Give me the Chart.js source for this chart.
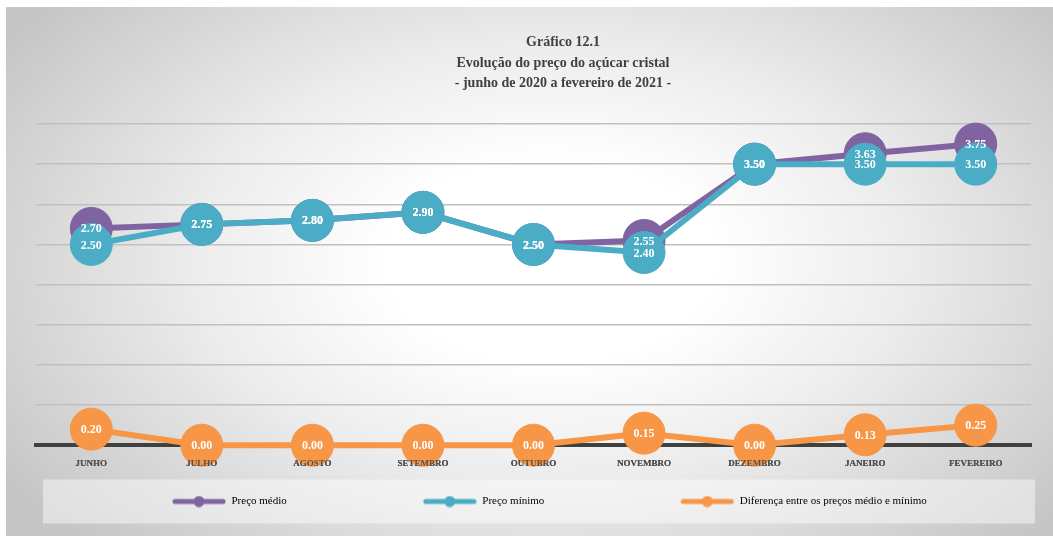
<!DOCTYPE html>
<html>
<head>
<meta charset="utf-8">
<script src="https://cdn.jsdelivr.net/npm/chart.js@4.4.1/dist/chart.umd.min.js"></script>
<style>
html,body{margin:0;padding:0;background:#fff;overflow:hidden;}
#wrap{position:absolute;left:6px;top:7px;width:1047px;height:529px;
  background:radial-gradient(ellipse 62% 75% at 52% 48%, #ffffff 25%, #ececec 55%, #c6c6c6 100%);}
#title{position:absolute;left:363px;top:32px;width:400px;text-align:center;
  font:bold 14px/20.5px 'Liberation Serif','DejaVu Serif',serif;color:#404040;}
</style>
</head>
<body>
<div id="wrap"><canvas id="chart" width="1047" height="529"></canvas></div>
<div id="title"></div>
<script>
// --- data ---
const months = ['JUNHO','JULHO','AGOSTO','SETEMBRO','OUTUBRO','NOVEMBRO','DEZEMBRO','JANEIRO','FEVEREIRO'];
const precoMedio = [2.70, 2.75, 2.80, 2.90, 2.50, 2.55, 3.50, 3.63, 3.75];
const precoMinimo = [2.50, 2.75, 2.80, 2.90, 2.50, 2.40, 3.50, 3.50, 3.50];
const diferenca = [0.20, 0.00, 0.00, 0.00, 0.00, 0.15, 0.00, 0.13, 0.25];
const titleLines = ['Gráfico 12.1', 'Evolução do preço do açúcar cristal', '- junho de 2020 a fevereiro de 2021 -'];

const PURPLE = '#8064A2', TEAL = '#4BACC6', ORANGE = '#F79646';
const SERIF = "'Liberation Serif', 'DejaVu Serif', serif";
const GAP = 122; // blank room left of each legend marker, spreads items like the original

document.getElementById('title').innerHTML = titleLines.join('<br>');

// legend marker: thick line with a dot
function marker(color){
  const c = document.createElement('canvas');
  c.width = 54 + GAP; c.height = 12;
  const g = c.getContext('2d');
  g.strokeStyle = color; g.lineWidth = 5; g.lineCap = 'round';
  g.beginPath(); g.moveTo(GAP+3,6); g.lineTo(GAP+51,6); g.stroke();
  g.fillStyle = color;
  g.beginPath(); g.arc(GAP+27,6,5.5,0,Math.PI*2); g.fill();
  return c;
}

function ds(label, data, color, order){
  return {
    label, data, order,
    borderColor: color, backgroundColor: color,
    borderWidth: 6,
    pointRadius: 21, pointHoverRadius: 21,
    pointBorderWidth: 1, pointBorderColor: color,
    pointBackgroundColor: color,
    clip: false,
    marker: marker(color)
  };
}

// white value labels on the points, then x labels again on top
const valueLabels = {
  id: 'valueLabels',
  afterDatasetsDraw(chart){
    const ctx = chart.ctx;
    ctx.save();
    ctx.font = "bold 12px " + SERIF;
    ctx.fillStyle = '#ffffff';
    ctx.textAlign = 'center';
    ctx.textBaseline = 'middle';
    chart.data.datasets.forEach((d,i)=>{
      chart.getDatasetMeta(i).data.forEach((p,j)=>{
        ctx.fillText(d.data[j].toFixed(2), p.x, p.y+1);
      });
    });
    ctx.restore();
    const xs = chart.scales.x;
    if (typeof xs.drawLabels === 'function') xs.drawLabels(chart.chartArea);
  }
};

// light panel behind the legend
const legendPanel = {
  id: 'legendPanel',
  beforeDraw(chart){
    const lg = chart.legend;
    if (!lg || !lg.legendHitBoxes || !lg.legendHitBoxes.length) return;
    const h = lg.legendHitBoxes[0];
    const cy = h.top + h.height/2;
    const ctx = chart.ctx;
    ctx.save();
    ctx.fillStyle = 'rgba(255,255,255,0.45)';
    ctx.fillRect(37, cy-22, 992, 44);
    ctx.restore();
  }
};

new Chart(document.getElementById('chart'), {
  type: 'line',
  data: {
    labels: months,
    datasets: [
      ds('Preço médio', precoMedio, PURPLE, 2),
      ds('Preço mínimo', precoMinimo, TEAL, 1),
      ds('Diferença entre os preços médio e mínimo', diferenca, ORANGE, 0)
    ]
  },
  plugins: [legendPanel, valueLabels],
  options: {
    responsive: false,
    animation: false,
    layout: { padding: { left: 30, right: 17, top: 117, bottom: 19 } },
    elements: { line: { tension: 0 } },
    scales: {
      x: {
        offset: true,
        grid: { display: false, drawTicks: false },
        border: { display: true, color: '#404040', width: 4 },
        ticks: { color: '#505050', padding: 13, font: { family: SERIF, size: 9, weight: 'bold' } }
      },
      y: {
        min: 0, max: 4,
        ticks: { display: false, stepSize: 0.5 },
        border: { display: false },
        grid: { color: '#c0c0c0', lineWidth: 1.5, drawTicks: false }
      }
    },
    plugins: {
      title: { display: false },
      legend: {
        position: 'bottom',
        align: 'start',
        labels: {
          usePointStyle: true,
          pointStyleWidth: 54 + GAP,
          padding: 14,
          color: '#404040',
          font: { family: SERIF, size: 11 },
          generateLabels(chart){
            return chart.data.datasets.map((d,i)=>({
              text: d.label, pointStyle: d.marker, datasetIndex: i,
              fillStyle: d.borderColor, strokeStyle: d.borderColor, lineWidth: 0, hidden: false
            }));
          }
        }
      },
      tooltip: { enabled: false }
    }
  }
});
</script>
</body>
</html>
